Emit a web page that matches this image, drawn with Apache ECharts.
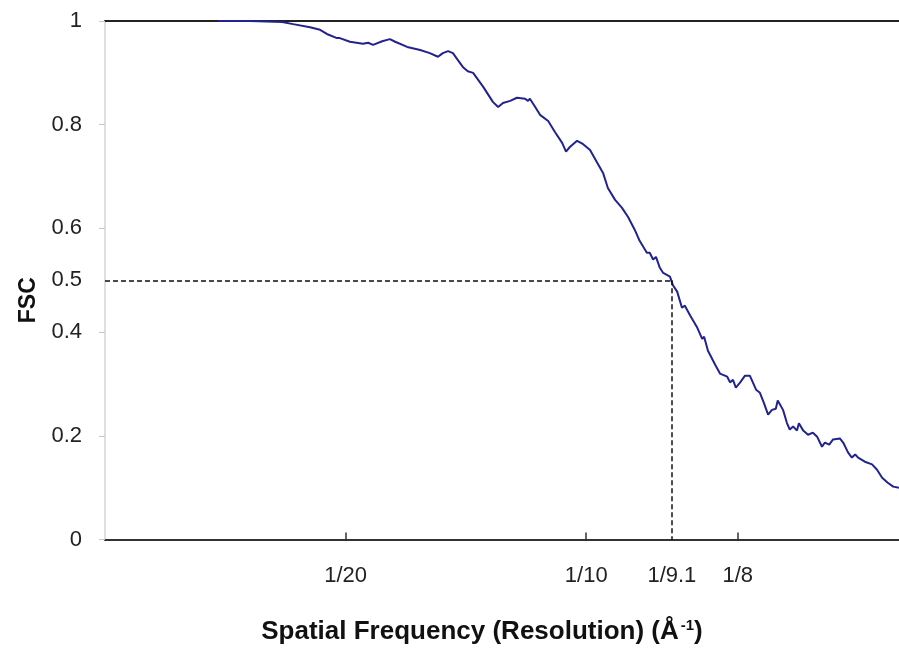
<!DOCTYPE html>
<html>
<head>
<meta charset="utf-8">
<script src="https://cdn.jsdelivr.net/npm/echarts@6/dist/echarts.min.js"></script>
<style>html,body{margin:0;padding:0;background:#fff}#c{width:899px;height:650px}</style>
</head>
<body>
<div id="c"></div>
<script>
// Spatial frequency (1/Å)
var freq = [0.0235,0.0301,0.0368,0.0391,0.0426,0.0447,0.0461,0.0482,0.0488,0.0509,0.0536,0.0547,0.0557,0.0576,0.0592,0.0603,0.0628,0.0655,0.0675,0.0692,0.0702,0.0713,0.0723,0.0733,0.0744,0.0754,0.0765,0.0786,0.0806,0.0817,0.0827,0.0842,0.0856,0.0873,0.0879,0.0883,0.0894,0.0904,0.0921,0.0935,0.0950,0.0958,0.0966,0.0981,0.0993,0.1008,0.1022,0.1035,0.1045,0.1060,0.1074,0.1087,0.1101,0.1111,0.1126,0.1132,0.1139,0.1145,0.1153,0.1160,0.1174,0.1178,0.1180,0.1189,0.1199,0.1205,0.1216,0.1230,0.1241,0.1245,0.1253,0.1268,0.1278,0.1293,0.1299,0.1305,0.1311,0.1320,0.1330,0.1340,0.1353,0.1361,0.1369,0.1378,0.1386,0.1394,0.1398,0.1409,0.1417,0.1423,0.1430,0.1438,0.1442,0.1451,0.1461,0.1471,0.1480,0.1490,0.1496,0.1505,0.1513,0.1527,0.1534,0.1544,0.1552,0.1559,0.1565,0.1579,0.1594,0.1604,0.1615,0.1626,0.1638,0.1650];
// FSC values
var fsc = [1.000,1.000,0.998,0.994,0.988,0.983,0.975,0.967,0.967,0.960,0.956,0.958,0.954,0.961,0.965,0.960,0.950,0.944,0.938,0.931,0.938,0.942,0.938,0.925,0.911,0.903,0.900,0.873,0.844,0.834,0.842,0.846,0.852,0.850,0.846,0.850,0.834,0.819,0.807,0.786,0.765,0.748,0.757,0.769,0.763,0.751,0.728,0.707,0.678,0.655,0.640,0.622,0.597,0.576,0.553,0.553,0.540,0.545,0.524,0.514,0.507,0.507,0.491,0.478,0.447,0.451,0.432,0.410,0.387,0.391,0.364,0.337,0.320,0.314,0.303,0.308,0.293,0.303,0.316,0.316,0.289,0.283,0.264,0.241,0.250,0.252,0.268,0.250,0.225,0.212,0.218,0.210,0.224,0.210,0.202,0.206,0.198,0.179,0.187,0.183,0.193,0.195,0.187,0.168,0.158,0.164,0.158,0.150,0.145,0.135,0.119,0.110,0.102,0.100];

var xTickValues = [0.05, 0.1, 0.1178, 0.1315];
var xTickLabels = ['1/20', '1/10', '1/9.1', '1/8'];
var xTickMarks = [0.05, 0.1, 0.1315];
var yLabelValues = [0, 0.2, 0.4, 0.5, 0.6, 0.8, 1];
var yTickValues = [0, 0.2, 0.4, 0.6, 0.8, 1];
var cutoffFSC = 0.5;
var cutoffFreq = 0.1178;

var data = freq.map(function (f, i) { return [f, fsc[i]]; });

var font = '"Liberation Sans", Arial, sans-serif';
var chart = echarts.init(document.getElementById('c'), null, {renderer: 'canvas'});
chart.setOption({
  animation: false,
  backgroundColor: '#fff',
  grid: {left: 105, right: 0, top: 21, bottom: 110, containLabel: false},
  xAxis: [{
    type: 'value', min: 0, max: 0.165,
    axisLine: {show: true, lineStyle: {color: '#333', width: 2}},
    axisTick: {show: true, inside: true, length: 7, customValues: xTickMarks, lineStyle: {color: '#333', width: 1.5}},
    axisLabel: {
      customValues: xTickValues, margin: 25, color: '#222', fontSize: 22, fontFamily: font,
      formatter: function (v) { var i = xTickValues.indexOf(v); return i >= 0 ? xTickLabels[i] : ''; }
    },
    splitLine: {show: false},
    name: '{t|Spatial Frequency (Resolution) (Å}{s|-1}{t|)}',
    nameLocation: 'middle', nameGap: 79,
    nameTextStyle: {
      padding: [0, 40, 0, 0],
      rich: {
        t: {fontSize: 26, fontWeight: 'bold', fontFamily: font, color: '#111'},
        s: {fontSize: 15, fontWeight: 'bold', fontFamily: font, color: '#111', verticalAlign: 'top', padding: [0, 0, 12, 2]}
      }
    }
  }, {
    type: 'value', min: 0, max: 0.165, position: 'top',
    axisLine: {show: true, lineStyle: {color: '#222', width: 2}},
    axisTick: {show: false}, axisLabel: {show: false}, splitLine: {show: false}
  }],
  yAxis: {
    type: 'value', min: 0, max: 1,
    axisLine: {show: true, lineStyle: {color: '#d4d4d4', width: 1.5}},
    axisTick: {show: true, length: 6, customValues: yTickValues, lineStyle: {color: '#c8c8c8'}},
    axisLabel: {customValues: yLabelValues, margin: 23, color: '#222', fontSize: 22, fontFamily: font},
    splitLine: {show: false},
    name: 'FSC', nameLocation: 'middle', nameGap: 65, nameRotate: 90,
    nameTextStyle: {fontSize: 23, fontWeight: 'bold', fontFamily: font, color: '#111', padding: [0, 40, 0, 0]}
  },
  series: [{
    type: 'line', data: data, showSymbol: false, symbol: 'none',
    lineStyle: {color: '#23238f', width: 2},
    markLine: {
      silent: true, symbol: 'none', label: {show: false},
      lineStyle: {color: '#111', type: [5, 3], width: 1.5},
      data: [
        [{coord: [0, cutoffFSC]}, {coord: [cutoffFreq, cutoffFSC]}],
        [{coord: [cutoffFreq, cutoffFSC]}, {coord: [cutoffFreq, 0]}]
      ]
    }
  }]
});
</script>
</body>
</html>
